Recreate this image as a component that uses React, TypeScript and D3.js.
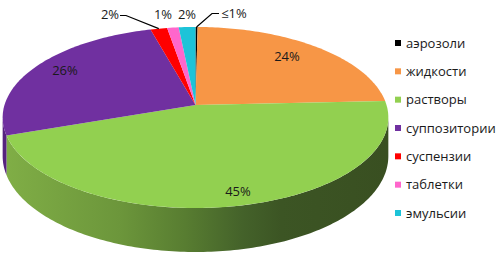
import React from 'react';
import * as d3 from 'd3';

const CATEGORIES = ['аэрозоли', 'жидкости', 'растворы', 'суппозитории', 'суспензии', 'таблетки', 'эмульсии'];
const VALUES = [0.2, 24.1, 45.4, 26.0, 1.6, 1.1, 1.6];
const LABELS = ['≤1%', '24%', '45%', '26%', '2%', '1%', '2%'];
const COLORS = ['#000000', '#F79646', '#92D050', '#7030A0', '#FF0000', '#FF66CC', '#1DC3D8'];
const SIDE_COLORS = ['#000000', '#B86A2C', 'url(#greenSide)', '#56237F', '#B00000', '#B84490', '#128C9C'];

// layout
const W = 500, H = 258;
const CX = 195.5, CY = 105, A = 88.8, B = 191, K = 0.138, DEPTH = 37.9;
const LABEL_POS: [number, number][] = [
  [234, 18], [287, 61], [238, 196], [65, 75], [110, 19], [163, 19], [187, 19],
];

function proj(theta: number, f = 1): [number, number] {
  const u = f * Math.sin(theta);
  const v = f * Math.cos(theta);
  const d = 1 + K * v;
  return [CX + (B * u) / d, CY - (A * v) / d];
}
function depthAt(theta: number) {
  return DEPTH / (1 + K * Math.cos(theta));
}
function arcPts(a0: number, a1: number): [number, number][] {
  const n = Math.max(2, Math.ceil(((a1 - a0) * 180) / Math.PI));
  const pts: [number, number][] = [];
  for (let i = 0; i <= n; i++) pts.push(proj(a0 + ((a1 - a0) * i) / n));
  return pts;
}

export default function App() {
  const pie = d3.pie<number>().sort(null).startAngle(0).endAngle(2 * Math.PI);
  const arcs = pie(VALUES);
  const phiR = Math.acos(-K);
  const phiL = 2 * Math.PI - phiR;
  const line = d3.line();

  const sides = arcs.map((a, i) => {
    const s = Math.max(a.startAngle, phiR);
    const e = Math.min(a.endAngle, phiL);
    if (s >= e) return null;
    const n = Math.max(2, Math.ceil(((e - s) * 180) / Math.PI));
    const top: [number, number][] = [];
    const bot: [number, number][] = [];
    for (let j = 0; j <= n; j++) {
      const t = s + ((e - s) * j) / n;
      const p = proj(t);
      top.push(p);
      bot.push([p[0], p[1] + depthAt(t)]);
    }
    const d = line([...top, ...bot.reverse()]) + 'Z';
    return <path key={'s' + i} d={d} fill={SIDE_COLORS[i]} />;
  });

  const tops = arcs.map((a, i) => {
    const pts = [[CX, CY] as [number, number], ...arcPts(a.startAngle, a.endAngle)];
    return <path key={'t' + i} d={line(pts) + 'Z'} fill={COLORS[i]} />;
  });

  // leader lines for small slices
  const leaders: JSX.Element[] = [];
  const a4 = arcs[4];
  const p4 = proj((a4.startAngle + a4.endAngle) / 2);
  leaders.push(
    <polyline key="l4" points={`120,15.5 126,15.5 ${p4[0]},${p4[1]}`} fill="none" stroke="#000" strokeWidth={1.2} />
  );
  const a0 = arcs[0];
  const p0 = proj((a0.startAngle + a0.endAngle) / 2);
  leaders.push(
    <polyline key="l0" points={`219,13.5 212,13.5 ${p0[0]},${p0[1]}`} fill="none" stroke="#000" strokeWidth={1.2} />
  );

  const legendY = d3.scalePoint<string>().domain(CATEGORIES).range([43, 213]);

  return (
    <svg width={W} height={H} style={{ position: 'absolute', left: 0, top: 0 }} fontFamily="'Open Sans', sans-serif">
      <defs>
        <linearGradient id="greenSide" gradientUnits="userSpaceOnUse" x1={5} y1={0} x2={388} y2={0}>
          <stop offset="0" stopColor="#80AE46" />
          <stop offset="0.3" stopColor="#6C963B" />
          <stop offset="0.47" stopColor="#587D31" />
          <stop offset="0.62" stopColor="#44622A" />
          <stop offset="0.72" stopColor="#3C5524" />
          <stop offset="1" stopColor="#394F21" />
        </linearGradient>
      </defs>
      <rect width={W} height={H} fill="#fff" />
      {sides}
      {tops}
      {leaders}
      {arcs.map((a, i) => (
        <text key={'lb' + i} x={LABEL_POS[i][0]} y={LABEL_POS[i][1]} textAnchor="middle" fontSize={13} fill="#1a1a1a">
          {LABELS[i]}
        </text>
      ))}
      {CATEGORIES.map((c, i) => (
        <g key={'lg' + i}>
          <rect x={395} y={legendY(c)! - 3} width={6} height={6} fill={COLORS[i]} />
          <text x={406} y={legendY(c)! + 4.5} fontSize={13} fill="#1a1a1a">{c}</text>
        </g>
      ))}
    </svg>
  );
}
